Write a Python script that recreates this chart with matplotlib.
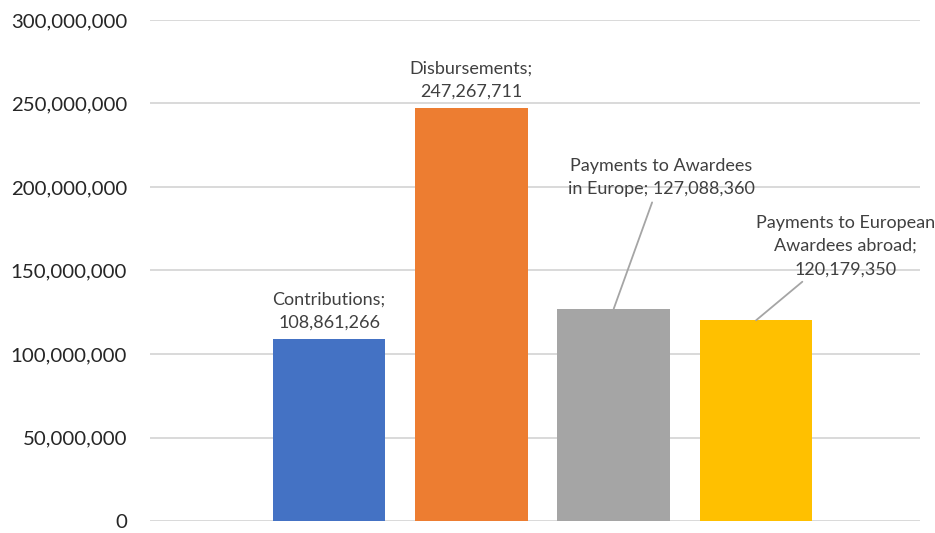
import matplotlib.pyplot as plt
from matplotlib.ticker import FuncFormatter

# Fund flows (EUR)
categories = ['Contributions', 'Disbursements', 'Payments to Awardees\nin Europe',
              'Payments to European\nAwardees abroad']
values = [108861266, 247267711, 127088360, 120179350]
colors = ['#4472C4', '#ED7D31', '#A5A5A5', '#FFC000']

plt.rcParams['font.family'] = ['Lato', 'DejaVu Sans']

fig = plt.figure(figsize=(9.35, 5.33), dpi=100)
ax = fig.add_axes([0.1604, 0.0225, 0.8236, 0.94])

x = range(len(values))
ax.bar(x, values, width=0.79, color=colors, zorder=2)

ax.set_ylim(0, 300000000)
ax.set_yticks(range(0, 300000001, 50000000))
ax.yaxis.set_major_formatter(FuncFormatter(lambda v, p: f'{int(v):,}'))
ax.set_xlim(-1.258, 4.152)
ax.set_xticks([])
ax.tick_params(axis='y', length=0, pad=16.5, labelsize=14.7, labelcolor='#262626')
ax.grid(axis='y', color='#D9D9D9', linewidth=1.4, zorder=0)
for s in ax.spines.values():
    s.set_visible(False)

lab_kw = dict(ha='center', fontsize=13, color='#404040', linespacing=1.55)

# first two labels sit right above their bars
for i in (0, 1):
    ax.annotate(f'{categories[i]};\n{values[i]:,}', xy=(i, values[i]),
                xytext=(0, 6), textcoords='offset points', va='bottom', **lab_kw)

# the other two are pulled away with a leader line
ax.annotate(f'{categories[2]}; {values[2]:,}',
            xy=(2, values[2]), xytext=(2.333, 194e6), va='bottom',
            arrowprops=dict(arrowstyle='-', color='#A5A5A5', lw=1.3,
                            shrinkA=2, shrinkB=0), **lab_kw)
ax.annotate(f'{categories[3]};\n{values[3]:,}',
            xy=(3.0, values[3]), xytext=(3.626, 146e6), va='bottom',
            arrowprops=dict(arrowstyle='-', color='#A5A5A5', lw=1.3,
                            shrinkA=2, shrinkB=0), **lab_kw)

fig.savefig('out.png', dpi=100)
